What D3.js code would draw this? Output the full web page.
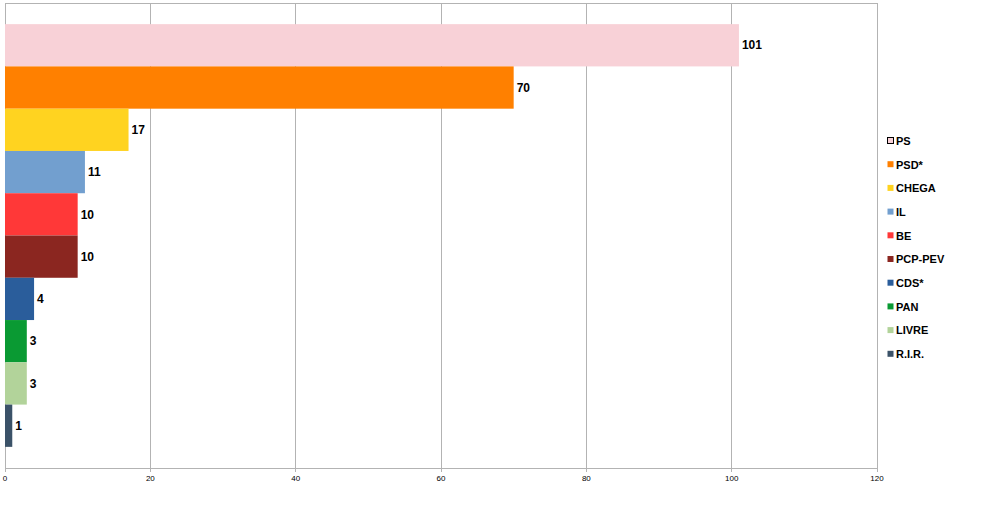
<!DOCTYPE html>
<html>
<head>
<meta charset="utf-8">
<script src="https://cdn.jsdelivr.net/npm/d3@7"></script>
<style>
  body { margin: 0; background: #fff; }
  svg { display: block; font-family: "Liberation Sans", Arial, sans-serif; }
</style>
</head>
<body>
<div id="chart"></div>
<script>
// datos
var parties = ["PS", "PSD*", "CHEGA", "IL", "BE", "PCP-PEV", "CDS*", "PAN", "LIVRE", "R.I.R."];
var seats = [101, 70, 17, 11, 10, 10, 4, 3, 3, 1];
var colors = ["#f8d1d7", "#ff8000", "#ffd320", "#729fcf", "#ff3838", "#8b2620", "#2a5d9b", "#0a9a33", "#b2d39a", "#3b5268"];
var xTicks = [0, 20, 40, 60, 80, 100, 120];

var W = 984, H = 508;
var plot = { left: 5, top: 3, right: 877, bottom: 468 };

var svg = d3.select("#chart").append("svg")
  .attr("width", W)
  .attr("height", H);

var x = d3.scaleLinear().domain([0, 120]).range([plot.left, plot.right]);
var y = d3.scaleBand().domain(parties).range([plot.top, plot.bottom])
  .paddingInner(0).paddingOuter(0.5);

// rejilla
svg.append("g")
  .selectAll("line")
  .data(xTicks)
  .enter()
  .append("line")
  .attr("x1", d => x(d)).attr("x2", d => x(d))
  .attr("y1", plot.top).attr("y2", plot.bottom + 4)
  .attr("stroke", "#b3b3b3")
  .attr("stroke-width", 1)
  .attr("shape-rendering", "crispEdges");

// borde superior y eje inferior
svg.append("line")
  .attr("x1", plot.left).attr("x2", plot.right)
  .attr("y1", plot.top).attr("y2", plot.top)
  .attr("stroke", "#b3b3b3").attr("shape-rendering", "crispEdges");
svg.append("line")
  .attr("x1", plot.left).attr("x2", plot.right)
  .attr("y1", plot.bottom).attr("y2", plot.bottom)
  .attr("stroke", "#b3b3b3").attr("shape-rendering", "crispEdges");

// etiquetas del eje
svg.append("g")
  .selectAll("text")
  .data(xTicks)
  .enter()
  .append("text")
  .attr("x", d => x(d))
  .attr("y", plot.bottom + 13)
  .attr("text-anchor", "middle")
  .attr("font-size", "8px")
  .attr("fill", "#000")
  .text(d => d);

// barras
svg.append("g")
  .selectAll("rect")
  .data(seats)
  .enter()
  .append("rect")
  .attr("x", x(0))
  .attr("y", (d, i) => y(parties[i]))
  .attr("width", d => x(d) - x(0))
  .attr("height", y.bandwidth())
  .attr("fill", (d, i) => colors[i]);

// valores
svg.append("g")
  .selectAll("text")
  .data(seats)
  .enter()
  .append("text")
  .attr("x", d => x(d) + 3)
  .attr("y", (d, i) => y(parties[i]) + y.bandwidth() / 2)
  .attr("dy", "0.35em")
  .attr("font-size", "12px")
  .attr("font-weight", "bold")
  .attr("fill", "#000")
  .text(d => d);

// leyenda
var legend = svg.append("g")
  .selectAll("g")
  .data(parties)
  .enter()
  .append("g")
  .attr("transform", (d, i) => "translate(887," + (141 + i * 23.7) + ")");

legend.append("rect")
  .attr("x", 0.5).attr("y", -3.5)
  .attr("width", 6).attr("height", 6)
  .attr("fill", (d, i) => colors[i])
  .attr("stroke", (d, i) => i === 0 ? "#000" : "none")
  .attr("stroke-width", 1);

legend.append("text")
  .attr("x", 9)
  .attr("y", 0)
  .attr("dy", "0.35em")
  .attr("font-size", "11px")
  .attr("font-weight", "bold")
  .attr("fill", "#000")
  .text(d => d);
</script>
</body>
</html>
